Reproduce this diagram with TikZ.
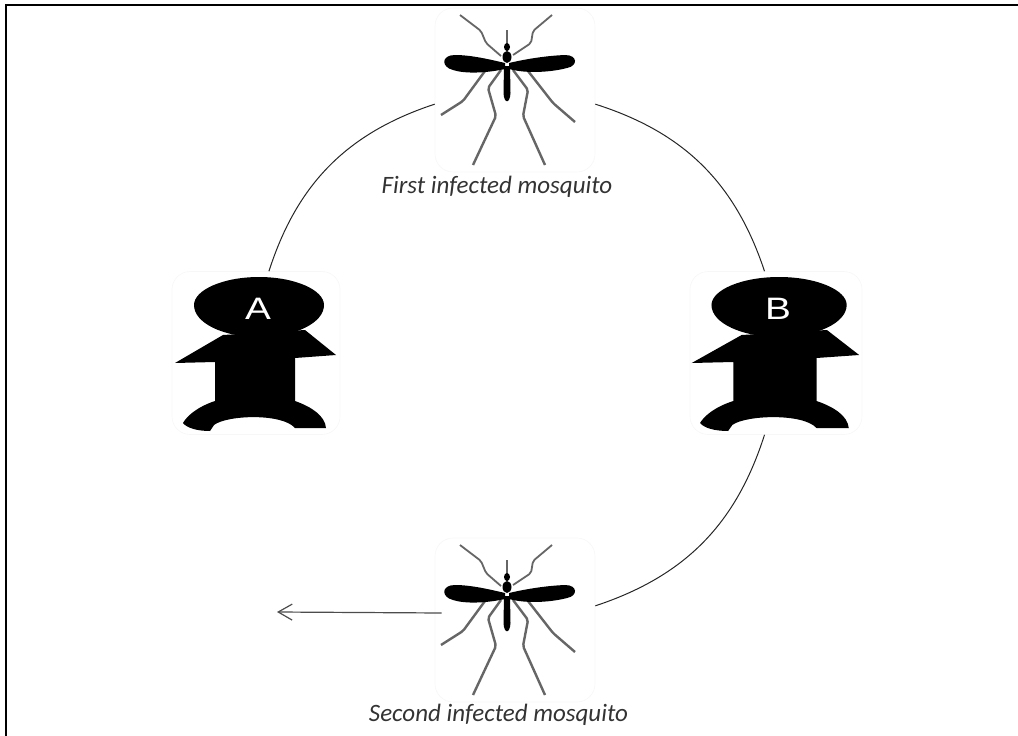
\documentclass[tikz,border=0pt]{standalone}
\usepackage{fontspec}
\setmainfont{Carlito}
\newfontfamily\letterfont{Liberation Sans}
\usetikzlibrary{positioning,calc,arrows.meta}

\tikzset{
    iconbox/.style={rectangle, rounded corners=18pt, draw=black!3, fill=white, line width=0.6pt, inner sep=0pt},
    caption/.style={font=\fontsize{25}{27}\selectfont\itshape, text=black!80, inner sep=0pt},
    letter/.style={font=\fontsize{31}{32}\letterfont, text=white, xscale=1.25, inner sep=0pt},
    arc/.style={black!85, line width=1pt},
    leg/.style={black!60, line width=2.4pt, line join=round, rounded corners=2pt},
    mosquito/.pic={
        % legs and feelers
        \draw[leg, line width=1.8pt] (-47,-48) -- (-26,-32) -- (-21,-20) -- (-6,-7);
        \draw[leg, line width=1.8pt] (45,-48) -- (26,-32) -- (24,-20) -- (6,-8);
        \draw[leg] (-22,8) -- (-44,38) -- (-66,52);
        \draw[leg] (21,8) -- (46,40) -- (68,59);
        \draw[leg] (-6,7) -- (-19,25) -- (-11,53) -- (-34,102);
        \draw[leg] (6,7) -- (21,27) -- (16,53) -- (38,102);
        \draw[leg, line width=1.5pt] (0,-33) -- (0,-12);
        % wings and body
        \fill[black] (-2,0) .. controls (-15,-3) and (-35,-8) .. (-52,-8)
            .. controls (-66,-8) and (-66,4) .. (-54,7)
            .. controls (-42,11) and (-20,10) .. (-2,6) -- cycle;
        \fill[black] (2,0) .. controls (15,-3) and (35,-7) .. (58,-8)
            .. controls (71,-8) and (71,3) .. (60,5)
            .. controls (45,9) and (20,11) .. (2,6) -- cycle;
        \fill[black] (-3,3) -- (3,3) -- (3.5,30) .. controls (3,41) and (-3,41) .. (-3.5,30) -- cycle;
        \fill[black] (0,-6) ellipse (4.5 and 6);
        \fill[black] (0,-16) ellipse (3 and 4);
    },
    person/.pic={
        \fill[black] (-63,-43) .. controls (-63,-58) and (-34,-71) .. (2,-71)
            .. controls (38,-71) and (67,-58) .. (67,-43)
            .. controls (67,-25) and (38,-11) .. (2,-11)
            .. controls (-34,-11) and (-63,-25) .. cycle;
        \fill[black] (-34,-13) -- (-82,15) -- (-42,14) -- (-42,53)
            .. controls (-60,59) and (-70,68) .. (-74,75)
            .. controls (-70,80) and (-60,83) .. (-47,83) -- (-43,77)
            .. controls (-30,67) and (25,65) .. (38,80) -- (69,80)
            .. controls (68,68) and (55,59) .. (38,53) -- (38,10) -- (79,7) -- (48,-18) -- cycle;
    }
}

\begin{document}
\begin{tikzpicture}[x=1pt, y=-1pt]
    \useasboundingbox (0,0) rectangle (1018,736);

    % frame
    \draw[black, line width=2.5pt] (6,736) -- (6,5) -- (1018,5);

    % icon boxes
    \node[iconbox, minimum width=160pt, minimum height=164pt] (mosqTop) at (515,90) {};
    \node[iconbox, minimum width=160pt, minimum height=164pt] (mosqBot) at (515,620) {};
    \node[iconbox, minimum width=168pt, minimum height=163pt] (personA) at (256,353) {};
    \node[iconbox, minimum width=172pt, minimum height=163pt] (personB) at (776,353) {};

    \pic at (507,63) {mosquito};
    \pic at (507,593) {mosquito};
    \pic at (257,348) {person};
    \pic[xscale=1.04] at (777,348) {person};

    \node[letter] (letterA) at (258,308.5) {A};
    \node[letter] (letterB) at (778,308.5) {B};

    \node[caption] (captionTop) at (497,187) {First infected mosquito};
    \node[caption] (captionBot) at (498.5,715) {Second infected mosquito};

    % connectors
    \draw[arc] (mosqTop.190) to[bend right=27] (personA.81);
    \draw[arc] (mosqTop.350) to[bend left=27] (personB.98);
    \draw[arc] (personB.262) to[bend left=27] (mosqBot.10);

    \coordinate (arrowEnd) at (277,612);
    \draw[black!70, line width=1.2pt, -{Straight Barb[length=14pt,width=16pt]}] ($(mosqBot.west)+(7,-7)$) -- (arrowEnd);
\end{tikzpicture}
\end{document}
